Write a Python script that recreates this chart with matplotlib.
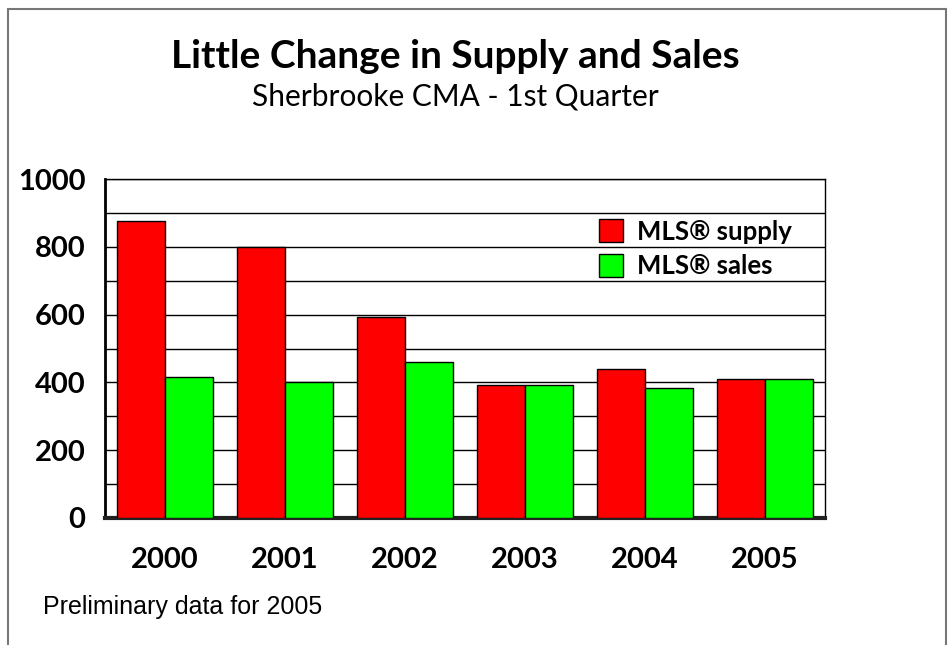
import matplotlib
matplotlib.use("Agg")
import matplotlib.pyplot as plt
from matplotlib.patches import Rectangle
import numpy as np

years = ["2000", "2001", "2002", "2003", "2004", "2005"]
supply = [876, 800, 593, 392, 441, 409]
sales = [417, 400, 460, 392, 384, 409]
yticks = [0, 200, 400, 600, 800, 1000]

fig = plt.figure(figsize=(9.48, 6.45), dpi=100)
fig.patches.append(Rectangle((8/948, -0.01), (946-8)/948, 1 - 9/645 + 0.01,
                             transform=fig.transFigure, fill=False,
                             edgecolor="#777777", linewidth=1.5))

ax = fig.add_axes([105/948, 1-518/645, 720/948, 339/645])
x = np.arange(len(years))
w = 0.4
ax.bar(x - w/2, supply, width=w, color="#ff0000", edgecolor="black", linewidth=1,
       label="MLS® supply", zorder=3)
ax.bar(x + w/2, sales, width=w, color="#00ff00", edgecolor="black", linewidth=1,
       label="MLS® sales", zorder=3)

ax.set_xlim(-0.5, len(years) - 0.5)
ax.set_ylim(0, 1000)
ax.set_yticks(yticks)
ax.set_yticks(np.arange(0, 1001, 100), minor=True)
ax.yaxis.grid(True, which="both", color="black", linewidth=1, zorder=0)
ax.set_axisbelow(True)
ax.tick_params(axis="y", which="both", length=0, pad=14)
ax.tick_params(axis="x", length=0, pad=21)
ax.set_xticks(x)
ax.set_xticklabels(years)
for lab in ax.get_yticklabels() + ax.get_xticklabels():
    lab.set_fontfamily("Lato")
    lab.set_fontweight("bold")
    lab.set_fontsize(21)
for s in ["top", "right"]:
    ax.spines[s].set_linewidth(1)
ax.spines["left"].set_linewidth(2)
ax.spines["bottom"].set_linewidth(3)
ax.spines["bottom"].set_color("#222222")

leg = ax.legend(loc="upper left", bbox_to_anchor=(0.6725, 0.911), frameon=False,
                prop={"family": "Lato", "weight": "bold", "size": 18.5},
                handlelength=0.9, handleheight=1.0, handletextpad=0.55,
                labelspacing=0.40, borderaxespad=0)

fig.text(455/948, 1-56/645, "Little Change in Supply and Sales", ha="center", va="center",
         fontfamily="Lato", fontweight="bold", fontsize=28)
fig.text(455/948, 1-96/645, "Sherbrooke CMA - 1st Quarter", ha="center", va="center",
         fontfamily="Lato", fontsize=21.5)
fig.text(43/948, 1-607/645, "Preliminary data for 2005", ha="left", va="center",
         fontfamily="Liberation Sans", fontsize=18)

fig.savefig("out.png", dpi=100)
